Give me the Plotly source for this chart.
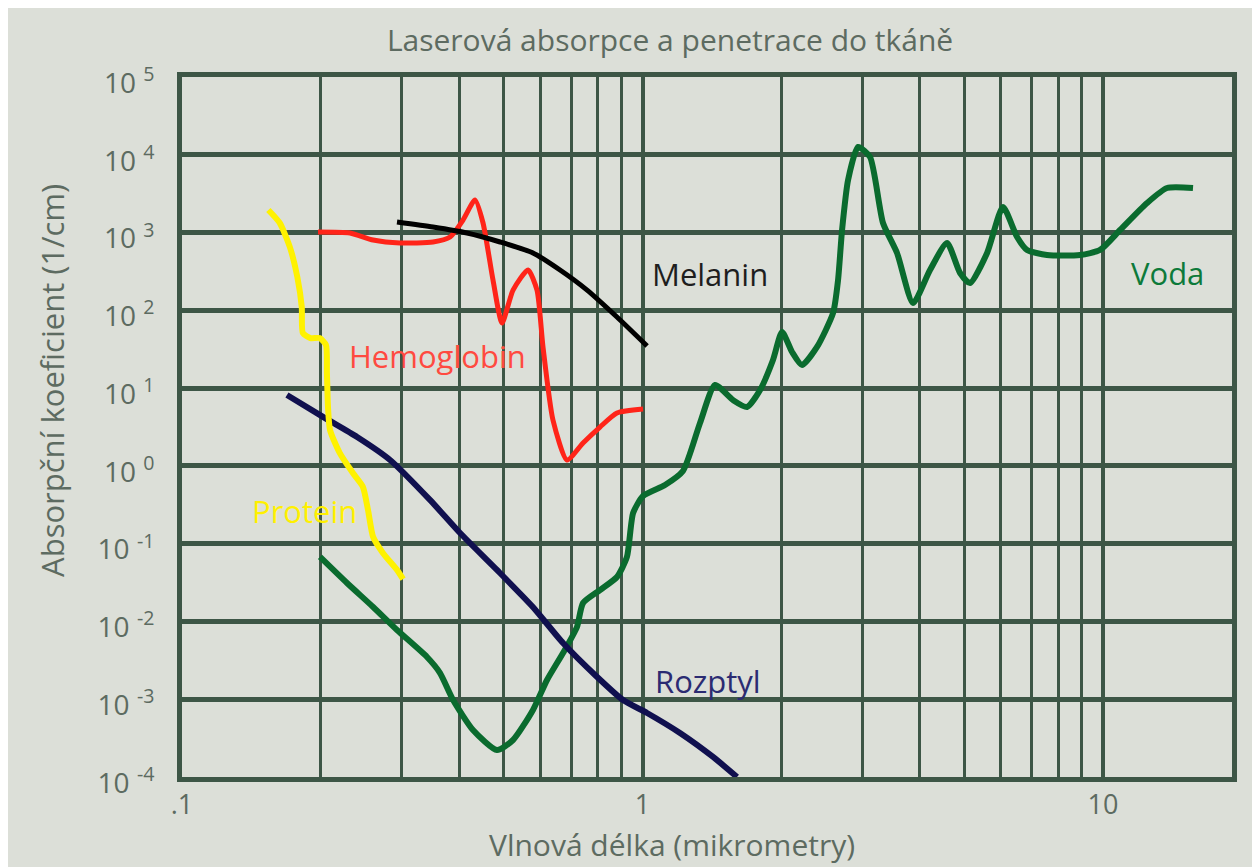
import plotly.graph_objects as go

# ---------------- data (wavelength in µm, absorption coefficient in 1/cm) ----------------
protein_wl = [0.154, 0.163, 0.1715, 0.178, 0.182, 0.183, 0.190, 0.199, 0.2054, 0.2064,
              0.2075, 0.2096, 0.220, 0.235, 0.247, 0.2535, 0.260, 0.273, 0.293, 0.302]
protein_abs = [1950, 1330, 650, 268, 110, 51, 44, 44, 36, 15.6,
               5.7, 2.9, 1.47, 0.81, 0.54, 0.27, 0.122, 0.076, 0.046, 0.035]

scatter_wl = [0.169, 0.2024, 0.240, 0.283, 0.3455, 0.4016, 0.483, 0.578, 0.672, 0.797,
              0.907, 1.023, 1.206, 1.423, 1.604]
scatter_abs = [8.17, 4.26, 2.35, 1.19, 0.365, 0.137, 0.0459, 0.01535, 0.00528, 0.00193,
               0.000977, 0.000665, 0.000368, 0.000181, 0.0001]

hemo_wl = [0.1974, 0.2316, 0.260, 0.2974, 0.3508, 0.382, 0.4076, 0.4329, 0.4505, 0.4735,
           0.4953, 0.5234, 0.5642, 0.590, 0.608, 0.639, 0.6855, 0.7427, 0.8085, 0.88, 1.0025]
hemo_abs = [1016, 987, 802, 734, 756, 877, 1449, 2624, 1327, 245,
            68.7, 182, 330, 182, 33.8, 3.89, 1.19, 1.97, 3.16, 4.79, 5.39]

melanin_wl = [0.293, 0.3508, 0.4159, 0.4905, 0.5783, 0.662, 0.758, 0.88, 1.023]
melanin_abs = [1368, 1178, 987, 756, 546, 330, 182, 82, 34.8]

water_wl = [0.1994, 0.2282, 0.260, 0.293, 0.3404, 0.3634, 0.3879, 0.4284, 0.483, 0.5234,
            0.5783, 0.6203, 0.672, 0.7206, 0.7427, 0.8085, 0.88, 0.925, 0.954, 1.0025,
            1.119, 1.224, 1.333, 1.437, 1.572, 1.686, 1.800, 1.920, 2.009, 2.112,
            2.220, 2.393, 2.593, 2.658, 2.712, 2.795, 2.938, 3.119, 3.328, 3.570,
            3.868, 4.210, 4.584, 4.892, 5.143, 5.600, 6.064, 6.506, 6.839, 7.556,
            8.913, 9.851, 10.89, 12.46, 13.77, 15.68]
water_abs = [0.0675, 0.0312, 0.01535, 0.00776, 0.00349, 0.00217, 0.000977, 0.000402, 0.000222, 0.000299,
             0.000728, 0.001766, 0.00393, 0.00849, 0.01726, 0.02535, 0.0373, 0.0675, 0.248, 0.410,
             0.568, 0.859, 3.56, 10.96, 7.03, 5.72, 9.46, 23.0, 52.7, 29.1,
             19.8, 33.8, 92.5, 245, 1079, 4742, 12590, 9360, 1327, 546,
             124, 330, 734, 302, 224, 546, 2132, 877, 597, 515,
             515, 597, 1079, 2399, 3741, 3741]

x_tickvals = [0.1, 1, 10]
x_ticktext = [".1", "1", "10"]
y_exponents = [-4, -3, -2, -1, 0, 1, 2, 3, 4, 5]
y_tickvals = [10.0 ** e for e in y_exponents]
y_ticktext = ["10 <sup>%d</sup>" % e for e in y_exponents]

title_text = "Laserová absorpce a penetrace do tkáně"
x_title = "Vlnová délka (mikrometry)"
y_title = "Absorpční koeficient (1/cm)"

# series labels: (text, log10 x, log10 y, colour)
labels = [
    ("Melanin", 0.147, 2.47, "#1e1e1e"),
    ("Voda", 1.141, 2.48, "#0d7a3a"),
    ("Hemoglobin", -0.446, 1.41, "#ff4a40"),
    ("Protein", -0.733, -0.58, "#fff000"),
    ("Rozptyl", 0.142, -2.77, "#2b2b72"),
]

# ---------------- styling ----------------
FONT = "Open Sans, Lato, sans-serif"
GRID = "#3d5646"
BG = "#dcdfd8"
TXT = "#5d6b61"
LABEL_SIZE = 31

fig = go.Figure()

series = [
    (water_wl, water_abs, "#0a6b2e", 6),
    (scatter_wl, scatter_abs, "#10104f", 6),
    (protein_wl, protein_abs, "#fff200", 6),
    (hemo_wl, hemo_abs, "#ff2419", 5),
    (melanin_wl, melanin_abs, "#000000", 5),
]
for xs, ys, col, w in series:
    fig.add_trace(go.Scatter(
        x=xs, y=ys, mode="lines",
        line=dict(color=col, width=w, shape="spline", smoothing=0.6),
        hoverinfo="skip", showlegend=False,
    ))

for text, lx, ly, col in labels:
    fig.add_annotation(x=lx, y=ly, xref="x", yref="y", text=text, showarrow=False,
                       font=dict(family=FONT, size=LABEL_SIZE, color=col),
                       xanchor="center", yanchor="middle")

# axis titles
fig.add_annotation(x=0.4667, y=-0.097, xref="paper", yref="paper", text=x_title,
                   showarrow=False, font=dict(family=FONT, size=LABEL_SIZE - 1, color=TXT),
                   xanchor="center", yanchor="middle")
fig.add_annotation(x=-0.124, y=0.567, xref="paper", yref="paper", text=y_title,
                   showarrow=False, textangle=-90,
                   font=dict(family=FONT, size=LABEL_SIZE, color=TXT),
                   xanchor="center", yanchor="middle")

fig.update_layout(
    width=1252, height=859,
    margin=dict(l=174, r=28, t=69, b=90),
    paper_bgcolor=BG, plot_bgcolor=BG,
    title=dict(text=title_text, x=0.4648, xref="paper", xanchor="center",
               y=0.9627, yref="container", yanchor="middle",
               font=dict(family=FONT, size=30, color=TXT)),
    font=dict(family=FONT, color=TXT),
)

fig.update_xaxes(
    type="log", range=[-1, 1.28],
    tickvals=x_tickvals, ticktext=x_ticktext,
    tickfont=dict(family=FONT, size=27, color=TXT),
    ticks="", ticklabelstandoff=0,
    showgrid=True, gridcolor=GRID, gridwidth=4,
    minor=dict(dtick="D1", showgrid=True, gridcolor=GRID, gridwidth=3, ticks=""),
    showline=True, linecolor=GRID, linewidth=5, mirror=True,
    zeroline=False,
)
fig.update_yaxes(
    type="log", range=[-4, 5],
    tickvals=y_tickvals, ticktext=y_ticktext,
    tickfont=dict(family=FONT, size=28, color=TXT),
    ticks="", ticklabelstandoff=17, ticklabelshift=6,
    showgrid=True, gridcolor=GRID, gridwidth=5,
    showline=True, linecolor=GRID, linewidth=5, mirror=True,
    zeroline=False,
)

fig.write_html("out.html")
